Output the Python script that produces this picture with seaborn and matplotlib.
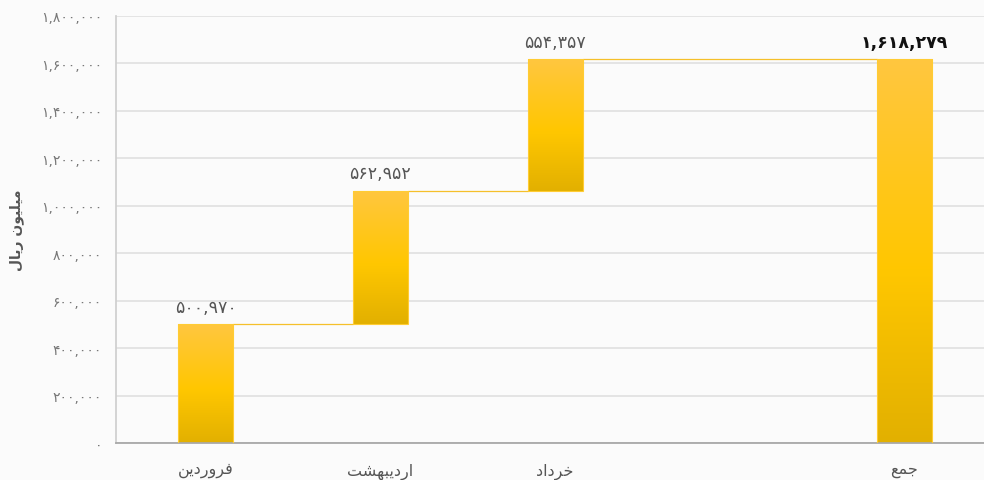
import matplotlib
matplotlib.use('Agg')
import matplotlib.pyplot as plt
from matplotlib.colors import LinearSegmentedColormap
import numpy as np
import pandas as pd
import seaborn as sns

# data
months = ['فروردین', 'اردیبهشت', 'خرداد']
month_values = [500970, 562952, 554357]
total_label = 'جمع'
total_value = 1618279
slot_order = ['فروردین', 'اردیبهشت', 'خرداد', '', 'جمع']
y_ticks = [0, 200000, 400000, 600000, 800000, 1000000, 1200000, 1400000, 1600000, 1800000]
y_label = 'میلیون ریال'

# matplotlib has no arabic shaping, so build presentation forms by hand
# letter: (isolated, final, initial, medial)
FORMS = {
    'ا': ('\uFE8D', '\uFE8E', None, None),
    'ب': ('\uFE8F', '\uFE90', '\uFE91', '\uFE92'),
    'ت': ('\uFE95', '\uFE96', '\uFE97', '\uFE98'),
    'ج': ('\uFE9D', '\uFE9E', '\uFE9F', '\uFEA0'),
    'خ': ('\uFEA5', '\uFEA6', '\uFEA7', '\uFEA8'),
    'د': ('\uFEA9', '\uFEAA', None, None),
    'ر': ('\uFEAD', '\uFEAE', None, None),
    'ش': ('\uFEB5', '\uFEB6', '\uFEB7', '\uFEB8'),
    'ع': ('\uFEC9', '\uFECA', '\uFECB', '\uFECC'),
    'ف': ('\uFED1', '\uFED2', '\uFED3', '\uFED4'),
    'ل': ('\uFEDD', '\uFEDE', '\uFEDF', '\uFEE0'),
    'م': ('\uFEE1', '\uFEE2', '\uFEE3', '\uFEE4'),
    'ن': ('\uFEE5', '\uFEE6', '\uFEE7', '\uFEE8'),
    'ه': ('\uFEE9', '\uFEEA', '\uFEEB', '\uFEEC'),
    'و': ('\uFEED', '\uFEEE', None, None),
    'ی': ('\uFBFC', '\uFBFD', '\uFEF3', '\uFEF4'),
}


def shape(text):
    out = []
    for i, ch in enumerate(text):
        if ch not in FORMS:
            out.append(ch)
            continue
        prev = text[i - 1] if i > 0 else ''
        nxt = text[i + 1] if i + 1 < len(text) else ''
        joins_prev = prev in FORMS and FORMS[prev][2] is not None
        joins_next = nxt in FORMS and FORMS[ch][2] is not None
        iso, fin, ini, med = FORMS[ch]
        if joins_prev and joins_next:
            out.append(med)
        elif joins_prev:
            out.append(fin)
        elif joins_next:
            out.append(ini)
        else:
            out.append(iso)
    return ''.join(reversed(out))


def fa_num(v):
    return f'{v:,}'.translate(str.maketrans('0123456789', '۰۱۲۳۴۵۶۷۸۹'))


# waterfall frame
df = pd.DataFrame({
    'label': months + [total_label],
    'value': month_values + [total_value],
})
df['bottom'] = list(np.cumsum([0] + month_values[:-1])) + [0]
df['top'] = df['bottom'] + df['value']

sns.set_theme(style='white')
plt.rcParams['font.family'] = ['DejaVu Sans']

fig = plt.figure(figsize=(9.84, 4.81), dpi=100, facecolor='#fbfbfb')
ax = fig.add_axes([0.118, 0.077, 0.882, 0.888])
ax.set_facecolor('#fbfbfb')

sns.barplot(data=df, x='label', y='top', order=slot_order, width=0.315,
            color='#FFC800', ax=ax, zorder=3)

grad_cmap = LinearSegmentedColormap.from_list(
    'bar', [(0, '#FFC640'), (0.55, '#FFC700'), (1, '#E2B000')], N=1024)
grad = np.linspace(0, 1, 1024).reshape(-1, 1)

rows = df.set_index('label')
for p in list(ax.patches):
    idx = int(round(p.get_x() + p.get_width() / 2))
    r = rows.loc[slot_order[idx]]
    p.set_y(r['bottom'])
    p.set_height(r['value'])
    p.set_facecolor('none')
    p.set_edgecolor('#FFCC33')
    p.set_linewidth(0.8)
    x0, x1 = p.get_x(), p.get_x() + p.get_width()
    im = ax.imshow(grad, cmap=grad_cmap, extent=[x0, x1, r['bottom'], r['top']],
                   origin='upper', aspect='auto', interpolation='bilinear', zorder=2.5)
    im.set_clip_path(p)

    bold = slot_order[idx] == total_label
    ax.annotate(fa_num(int(r['value'])), (idx, r['top']), xytext=(0, 6),
                textcoords='offset points', ha='center', va='bottom',
                fontsize=12.5, color='#111111' if bold else '#555555',
                fontweight='bold' if bold else 'normal', zorder=5)

# connector lines
pos = {c: i for i, c in enumerate(slot_order)}
half = 0.315 / 2
labels = df['label'].tolist()
for a, b in zip(labels[:-1], labels[1:]):
    level = rows.loc[a, 'top']
    ax.plot([pos[a] + half, pos[b] - half], [level, level],
            color='#F5C02A', lw=0.9, zorder=2)

ax.set_xlim(-0.512, 4.455)
ax.set_ylim(0, 1800000)
ax.set_yticks(y_ticks)
ax.set_yticklabels([fa_num(t) for t in y_ticks], fontsize=10, color='#777777')
ax.set_xticks(range(len(slot_order)))
ax.set_xticklabels([shape(c) for c in slot_order], fontsize=11.5, color='#555555')
ax.tick_params(axis='both', length=0, pad=10)
ax.tick_params(axis='x', pad=14)
ax.grid(axis='y', color='#e2e2e2', lw=1.3, zorder=0)
ax.set_axisbelow(True)
ax.set_xlabel('')
ax.set_ylabel(shape(y_label), fontsize=10, fontweight='bold', color='#555555', labelpad=12)

for s in ['top', 'right']:
    ax.spines[s].set_visible(False)
ax.spines['left'].set_color('#cfcfcf')
ax.spines['bottom'].set_color('#a8a8a8')
ax.spines['bottom'].set_linewidth(1.3)

fig.savefig('out.png', dpi=100, facecolor=fig.get_facecolor())
